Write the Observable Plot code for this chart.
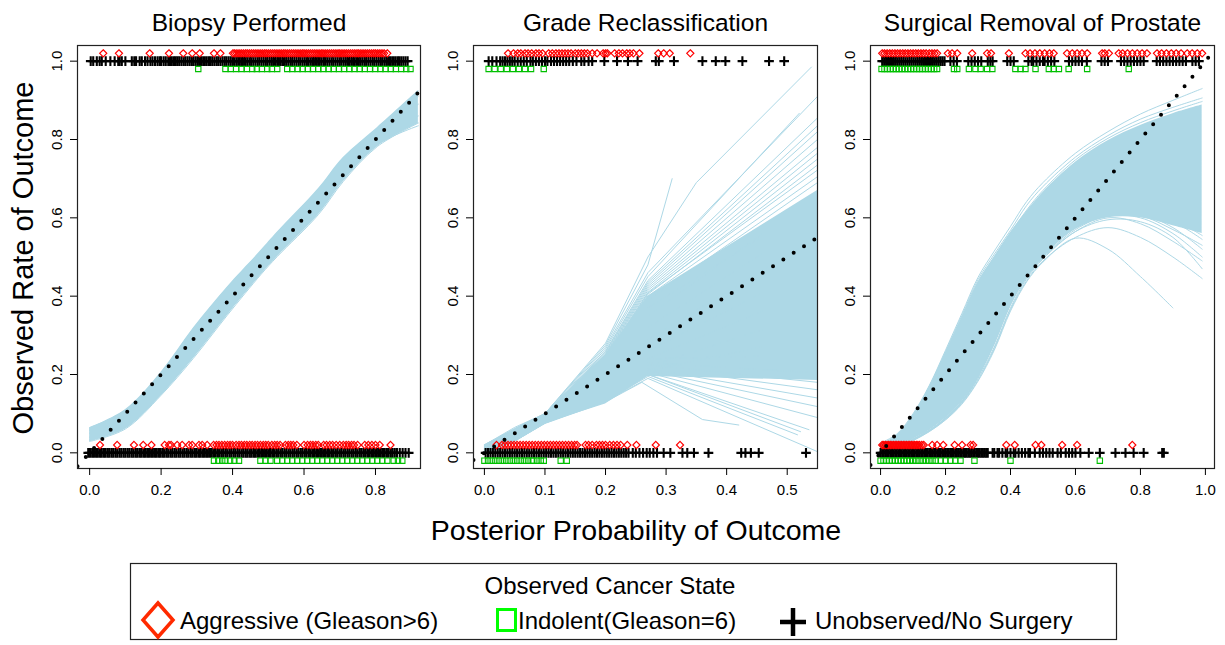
<!DOCTYPE html>
<html><head><meta charset="utf-8">
<script src="https://cdn.jsdelivr.net/npm/d3@7"></script>
<script src="https://cdn.jsdelivr.net/npm/@observablehq/plot@0.6"></script>
<style>
body{margin:0;background:#fff;}
#wrap{position:relative;width:1225px;height:645px;overflow:hidden;background:#fff;}
</style></head><body><div id="wrap"></div>
<script>
// ---------------- DATA ----------------
const panelTitles = ["Biopsy Performed", "Grade Reclassification", "Surgical Removal of Prostate"];
const yTicks = [0, 0.2, 0.4, 0.6, 0.8, 1.0];
const xTicksBiopsy = [0, 0.2, 0.4, 0.6, 0.8];
const xTicksGrade = [0, 0.1, 0.2, 0.3, 0.4, 0.5];
const xTicksSurgery = [0, 0.2, 0.4, 0.6, 0.8, 1.0];
const legendLabels = ["Aggressive (Gleason>6)", "Indolent(Gleason=6)", "Unobserved/No Surgery"];

// Biopsy: band of bootstrap calibration curves
const bioX = [0, 0.1, 0.2, 0.29, 0.385, 0.48, 0.525, 0.64, 0.71, 0.805, 0.92];
const bioLo = [0.028, 0.06, 0.146, 0.24, 0.35, 0.455, 0.50, 0.607, 0.692, 0.781, 0.84];
const bioHi = [0.064, 0.11, 0.206, 0.318, 0.423, 0.517, 0.563, 0.674, 0.754, 0.83, 0.925];
const bioCurves = [
  [0.064, 0.109, 0.205, 0.317, 0.422, 0.516, 0.562, 0.673, 0.753, 0.829, 0.924],
  [0.029, 0.061, 0.147, 0.241, 0.351, 0.456, 0.501, 0.608, 0.693, 0.782, 0.842],
  [0.05, 0.09, 0.18, 0.285, 0.395, 0.49, 0.54, 0.65, 0.73, 0.81, 0.89],
  [0.04, 0.075, 0.16, 0.26, 0.37, 0.47, 0.52, 0.625, 0.71, 0.795, 0.86],
  [0.058, 0.1, 0.195, 0.305, 0.41, 0.505, 0.55, 0.665, 0.745, 0.82, 0.91],
  [0.033, 0.066, 0.15, 0.247, 0.357, 0.46, 0.507, 0.615, 0.7, 0.787, 0.835]
];

// Grade reclassification: dense core and individual curves (x,y pairs)
const gradeX = [0, 0.05, 0.1, 0.2, 0.27, 0.55];
const gradeLo = [0.0, 0.03, 0.075, 0.125, 0.195, 0.185];
const gradeHi = [0.02, 0.06, 0.1, 0.25, 0.40, 0.67];
const gradeCurves = [
  [[0,0.02],[0.05,0.065],[0.1,0.1],[0.2,0.28],[0.27,0.5],[0.35,0.69],[0.54,0.985]],
  [[0,0.02],[0.05,0.062],[0.1,0.1],[0.2,0.275],[0.27,0.48],[0.31,0.70]],
  [[0,0.02],[0.05,0.06],[0.1,0.1],[0.2,0.27],[0.27,0.46],[0.55,0.91]],
  [[0,0.018],[0.05,0.06],[0.1,0.098],[0.2,0.265],[0.27,0.45],[0.52,0.867]],
  [[0,0.018],[0.05,0.058],[0.1,0.097],[0.2,0.26],[0.27,0.44],[0.55,0.855]],
  [[0,0.017],[0.05,0.057],[0.1,0.096],[0.2,0.258],[0.27,0.435],[0.55,0.835]],
  [[0,0.016],[0.05,0.056],[0.1,0.095],[0.2,0.255],[0.27,0.43],[0.55,0.82]],
  [[0,0.016],[0.05,0.056],[0.1,0.095],[0.2,0.252],[0.27,0.425],[0.55,0.80]],
  [[0,0.016],[0.05,0.055],[0.1,0.094],[0.2,0.25],[0.27,0.42],[0.55,0.78]],
  [[0,0.015],[0.05,0.055],[0.1,0.094],[0.2,0.248],[0.27,0.415],[0.55,0.765]],
  [[0,0.015],[0.05,0.054],[0.1,0.093],[0.2,0.245],[0.27,0.41],[0.55,0.75]],
  [[0,0.015],[0.05,0.053],[0.1,0.092],[0.2,0.24],[0.27,0.405],[0.55,0.735]],
  [[0,0.015],[0.05,0.053],[0.1,0.092],[0.2,0.242],[0.27,0.408],[0.55,0.722]],
  [[0,0.014],[0.05,0.052],[0.1,0.092],[0.2,0.238],[0.27,0.4],[0.55,0.705]],
  [[0,0.013],[0.05,0.051],[0.1,0.091],[0.2,0.232],[0.27,0.39],[0.55,0.69]],
  [[0,0.012],[0.05,0.05],[0.1,0.09],[0.2,0.22],[0.27,0.35],[0.55,0.66]],
  [[0,0.012],[0.05,0.05],[0.1,0.09],[0.2,0.225],[0.27,0.37],[0.55,0.64]],
  [[0,0.01],[0.05,0.045],[0.1,0.088],[0.2,0.2],[0.27,0.32],[0.55,0.6]],
  [[0,0.008],[0.05,0.042],[0.1,0.086],[0.2,0.19],[0.27,0.29],[0.55,0.55]],
  [[0,0.006],[0.05,0.04],[0.1,0.084],[0.2,0.17],[0.27,0.26],[0.55,0.48]],
  [[0,0.005],[0.05,0.038],[0.1,0.082],[0.2,0.16],[0.27,0.24],[0.55,0.42]],
  [[0,0.004],[0.05,0.036],[0.1,0.08],[0.2,0.15],[0.27,0.22],[0.55,0.36]],
  [[0,0.003],[0.05,0.034],[0.1,0.078],[0.2,0.14],[0.27,0.21],[0.55,0.3]],
  [[0,0],[0.05,0.03],[0.1,0.075],[0.2,0.13],[0.26,0.18],[0.36,0.085],[0.42,0.071]],
  [[0,0],[0.05,0.03],[0.1,0.076],[0.2,0.132],[0.27,0.19],[0.55,0.003]],
  [[0,0],[0.05,0.03],[0.1,0.076],[0.2,0.133],[0.27,0.195],[0.517,0.046]],
  [[0,0],[0.05,0.031],[0.1,0.077],[0.2,0.134],[0.27,0.2],[0.522,0.054]],
  [[0,0],[0.05,0.031],[0.1,0.077],[0.2,0.135],[0.27,0.2],[0.536,0.059]],
  [[0,0],[0.05,0.031],[0.1,0.078],[0.2,0.136],[0.27,0.205],[0.55,0.09]],
  [[0,0],[0.05,0.032],[0.1,0.078],[0.2,0.137],[0.27,0.21],[0.55,0.118]],
  [[0,0],[0.05,0.032],[0.1,0.079],[0.2,0.138],[0.27,0.215],[0.55,0.14]],
  [[0,0],[0.05,0.032],[0.1,0.079],[0.2,0.139],[0.27,0.22],[0.55,0.161]],
  [[0,0],[0.05,0.033],[0.1,0.08],[0.2,0.14],[0.27,0.225],[0.55,0.18]],
  [[0,0],[0.05,0.033],[0.1,0.08],[0.2,0.142],[0.27,0.23],[0.55,0.204]],
  [[0,0],[0.05,0.034],[0.1,0.081],[0.2,0.145],[0.27,0.24],[0.55,0.25]]
];

// Surgery: dense band and edge curves on a shared grid
const surX = [0, 0.05, 0.1, 0.15, 0.2, 0.25, 0.3, 0.35, 0.4, 0.45, 0.5, 0.6, 0.7, 0.8, 0.9, 0.99];
const surLo = [0.0, 0.013, 0.034, 0.057, 0.088, 0.13, 0.195, 0.28, 0.38, 0.45, 0.5, 0.57, 0.6, 0.6, 0.58, 0.56];
const surHi = [0.02, 0.043, 0.095, 0.168, 0.255, 0.345, 0.435, 0.5, 0.562, 0.616, 0.665, 0.742, 0.797, 0.836, 0.866, 0.888];
const surCurves = [
  [0.025,0.048,0.1,0.172,0.262,0.355,0.448,0.515,0.578,0.642,0.69,0.765,0.82,0.865,0.9,0.93],
  [0.022,0.045,0.097,0.17,0.258,0.35,0.442,0.507,0.568,0.632,0.68,0.755,0.81,0.852,0.882,0.906],
  [0.02,0.043,0.094,0.166,0.252,0.343,0.436,0.5,0.562,0.62,0.67,0.748,0.803,0.843,0.873,0.897],
  [0,0.013,0.033,0.056,0.087,0.128,0.19,0.27,0.37,0.445,0.495,0.565,0.6,0.585,0.54,0.49],
  [0,0.012,0.032,0.055,0.085,0.126,0.186,0.266,0.366,0.44,0.49,0.55,0.575,0.55,0.5,0.445],
  [0,0.012,0.031,0.054,0.084,0.124,0.183,0.262,0.362,0.437,0.487,0.548,0.52,0.45,0.37,null],
  [0,0.014,0.035,0.058,0.09,0.132,0.2,0.285,0.385,0.452,0.502,0.575,0.61,0.61,0.575,0.52],
  [0,0.013,0.034,0.057,0.088,0.13,0.195,0.28,0.38,0.45,0.5,0.57,0.605,0.6,0.56,0.5],
  [0,0.013,0.034,0.057,0.088,0.13,0.196,0.282,0.382,0.452,0.503,0.58,0.61,0.61,0.59,0.545],
  [0,0.013,0.034,0.057,0.088,0.13,0.194,0.278,0.378,0.448,0.498,0.565,0.595,0.59,0.55,0.47],
  [0,0.013,0.034,0.057,0.088,0.13,0.196,0.283,0.383,0.452,0.503,0.575,0.605,0.605,0.57,0.53],
  [0,0.013,0.034,0.057,0.088,0.13,0.197,0.284,0.384,0.454,0.505,0.583,0.615,0.615,0.595,0.555]
];

// Observed outcomes (rug), x = posterior probability
const bioAggr1 = [0.038,0.082,0.168,0.222,0.262,0.287,0.308,0.348,0.366,0.401,0.406,0.412,0.418,0.424,0.43,0.436,0.441,0.447,0.453,0.459,0.465,0.471,0.477,0.483,0.489,0.494,0.5,0.506,0.512,0.518,0.524,0.53,0.536,0.542,0.547,0.553,0.559,0.565,0.571,0.577,0.583,0.589,0.595,0.6,0.606,0.612,0.618,0.624,0.63,0.636,0.642,0.648,0.653,0.659,0.665,0.671,0.677,0.683,0.689,0.695,0.7,0.706,0.712,0.718,0.724,0.73,0.736,0.742,0.748,0.753,0.759,0.765,0.771,0.777,0.783,0.789,0.795,0.8,0.806,0.812,0.818,0.824,0.833];
const bioUnobs1 = [0.003,0.01,0.02,0.028,0.034,0.045,0.058,0.07,0.08,0.084,0.09,0.1,0.118,0.125,0.13,0.14,0.146,0.155,0.162,0.17,0.176,0.183,0.19,0.196,0.2,0.207,0.213,0.22,0.225,0.23,0.236,0.241,0.246,0.251,0.257,0.263,0.268,0.274,0.28,0.286,0.291,0.297,0.303,0.309,0.314,0.32,0.326,0.332,0.337,0.343,0.349,0.355,0.36,0.366,0.372,0.378,0.383,0.389,0.395,0.401,0.406,0.412,0.418,0.424,0.429,0.435,0.441,0.447,0.452,0.458,0.464,0.47,0.475,0.481,0.487,0.493,0.498,0.504,0.51,0.516,0.521,0.527,0.533,0.539,0.544,0.55,0.556,0.562,0.567,0.573,0.579,0.585,0.59,0.596,0.602,0.608,0.613,0.619,0.625,0.631,0.636,0.642,0.648,0.654,0.659,0.665,0.671,0.677,0.682,0.688,0.694,0.7,0.705,0.711,0.717,0.723,0.728,0.734,0.74,0.746,0.751,0.757,0.763,0.769,0.774,0.78,0.786,0.792,0.797,0.803,0.809,0.815,0.82,0.826,0.832,0.838,0.843,0.849,0.855,0.861,0.866,0.872,0.878,0.884,0.89];
const bioInd1 = [0.304,0.38,0.395,0.41,0.425,0.44,0.455,0.468,0.482,0.497,0.51,0.525,0.553,0.567,0.582,0.596,0.611,0.625,0.64,0.654,0.669,0.683,0.698,0.712,0.727,0.741,0.756,0.77,0.785,0.799,0.814,0.828,0.843,0.857,0.872,0.886,0.898];
const bioAggr0 = [0.029,0.077,0.124,0.15,0.173,0.21,0.222,0.228,0.245,0.259,0.278,0.287,0.306,0.315,0.329,0.347,0.355,0.362,0.37,0.378,0.386,0.393,0.40,0.41,0.418,0.425,0.433,0.44,0.448,0.455,0.463,0.47,0.478,0.486,0.493,0.50,0.51,0.518,0.525,0.533,0.548,0.556,0.563,0.57,0.58,0.6,0.61,0.618,0.625,0.633,0.64,0.655,0.663,0.672,0.68,0.69,0.7,0.71,0.718,0.725,0.733,0.74,0.75,0.77,0.78,0.79,0.8,0.812,0.842];
const bioUnobs0 = [-0.004,0.001,0.007,0.012,0.018,0.023,0.029,0.034,0.04,0.045,0.051,0.056,0.062,0.067,0.073,0.078,0.084,0.089,0.095,0.1,0.106,0.111,0.117,0.122,0.128,0.133,0.139,0.144,0.15,0.155,0.161,0.166,0.172,0.177,0.183,0.188,0.194,0.199,0.205,0.21,0.216,0.221,0.227,0.232,0.238,0.243,0.249,0.254,0.26,0.265,0.271,0.276,0.282,0.287,0.293,0.298,0.304,0.309,0.315,0.32,0.326,0.331,0.337,0.342,0.348,0.353,0.359,0.364,0.37,0.375,0.381,0.386,0.392,0.397,0.403,0.408,0.414,0.419,0.425,0.43,0.436,0.441,0.447,0.452,0.458,0.463,0.469,0.474,0.48,0.485,0.491,0.496,0.502,0.507,0.513,0.518,0.524,0.529,0.535,0.54,0.546,0.551,0.557,0.562,0.568,0.573,0.579,0.584,0.59,0.595,0.601,0.606,0.612,0.617,0.623,0.628,0.634,0.639,0.645,0.65,0.656,0.661,0.667,0.672,0.678,0.683,0.689,0.694,0.7,0.705,0.711,0.716,0.722,0.727,0.733,0.738,0.744,0.749,0.755,0.76,0.766,0.771,0.777,0.782,0.788,0.793,0.799,0.804,0.81,0.815,0.821,0.826,0.832,0.837,0.843,0.848,0.854,0.86,0.868,0.876,0.884,0.893];
const bioInd0 = [0.348,0.36,0.371,0.38,0.393,0.405,0.418,0.478,0.492,0.506,0.525,0.539,0.553,0.567,0.581,0.595,0.609,0.623,0.637,0.651,0.665,0.679,0.693,0.707,0.721,0.735,0.749,0.763,0.777,0.791,0.805,0.819,0.833,0.851,0.863,0.875];

const grAggr1 = [0.039,0.048,0.055,0.06,0.067,0.072,0.078,0.085,0.09,0.096,0.106,0.112,0.118,0.123,0.128,0.133,0.138,0.143,0.15,0.155,0.16,0.165,0.17,0.178,0.186,0.196,0.2,0.203,0.215,0.222,0.228,0.235,0.24,0.246,0.256,0.287,0.296,0.306,0.34];
const grUnobs1 = [0.007,0.013,0.02,0.026,0.03,0.034,0.038,0.042,0.046,0.05,0.055,0.06,0.065,0.07,0.076,0.08,0.085,0.09,0.095,0.1,0.104,0.11,0.115,0.12,0.125,0.13,0.135,0.14,0.146,0.152,0.16,0.165,0.172,0.178,0.198,0.219,0.237,0.253,0.283,0.288,0.313,0.36,0.382,0.398,0.426,0.47,0.495];
const grInd1 = [0.007,0.017,0.027,0.037,0.047,0.057,0.067,0.077,0.098];
const grAggr0 = [0.02,0.029,0.034,0.039,0.044,0.049,0.054,0.059,0.064,0.069,0.074,0.079,0.084,0.089,0.094,0.099,0.104,0.109,0.114,0.119,0.124,0.129,0.134,0.139,0.144,0.149,0.153,0.167,0.172,0.178,0.185,0.19,0.195,0.2,0.207,0.213,0.219,0.225,0.236,0.251,0.283,0.323];
const grUnobs0 = [0.002,0.006,0.01,0.014,0.018,0.022,0.026,0.03,0.034,0.038,0.042,0.046,0.05,0.054,0.058,0.062,0.066,0.07,0.074,0.078,0.082,0.086,0.09,0.094,0.098,0.102,0.106,0.11,0.114,0.118,0.122,0.126,0.13,0.134,0.138,0.142,0.146,0.15,0.154,0.158,0.162,0.166,0.17,0.174,0.178,0.182,0.186,0.19,0.194,0.198,0.202,0.206,0.21,0.214,0.218,0.222,0.226,0.23,0.234,0.238,0.245,0.25,0.256,0.262,0.268,0.273,0.279,0.285,0.296,0.307,0.327,0.335,0.346,0.37,0.424,0.431,0.44,0.453,0.531];
const grInd0 = [0.0,0.006,0.012,0.018,0.024,0.03,0.036,0.042,0.048,0.054,0.06,0.066,0.072,0.078,0.081,0.087,0.093,0.098,0.126,0.136];

const surAggr1 = [0.005,0.012,0.02,0.028,0.036,0.044,0.052,0.06,0.068,0.076,0.084,0.092,0.1,0.108,0.116,0.124,0.132,0.14,0.15,0.158,0.166,0.174,0.207,0.22,0.236,0.282,0.328,0.34,0.395,0.446,0.46,0.475,0.49,0.505,0.52,0.533,0.574,0.59,0.605,0.62,0.636,0.682,0.69,0.703,0.733,0.745,0.76,0.775,0.79,0.805,0.82,0.851,0.865,0.88,0.895,0.91,0.925,0.944,0.959,0.975,0.99];
const surUnobs1 = [0.005,0.011,0.017,0.023,0.029,0.035,0.041,0.047,0.053,0.059,0.065,0.071,0.077,0.083,0.089,0.095,0.101,0.107,0.113,0.119,0.125,0.131,0.137,0.143,0.149,0.155,0.161,0.167,0.173,0.179,0.185,0.191,0.197,0.215,0.225,0.235,0.27,0.28,0.29,0.3,0.31,0.33,0.338,0.345,0.39,0.4,0.41,0.455,0.465,0.47,0.48,0.49,0.5,0.505,0.515,0.525,0.535,0.58,0.59,0.6,0.61,0.62,0.635,0.68,0.69,0.7,0.74,0.75,0.76,0.77,0.78,0.79,0.8,0.81,0.85,0.86,0.87,0.88,0.89,0.9,0.91,0.92,0.93,0.94,0.96,0.97,0.98];
const surInd1 = [0.003,0.012,0.021,0.03,0.039,0.048,0.057,0.066,0.075,0.084,0.093,0.102,0.111,0.12,0.129,0.138,0.147,0.156,0.165,0.174,0.226,0.236,0.272,0.292,0.308,0.328,0.344,0.415,0.431,0.446,0.477,0.518,0.533,0.549,0.579,0.636,0.764];
const surAggr0 = [0.005,0.01,0.015,0.02,0.025,0.03,0.035,0.04,0.045,0.05,0.055,0.06,0.065,0.07,0.075,0.08,0.085,0.09,0.095,0.1,0.105,0.11,0.115,0.12,0.127,0.133,0.159,0.174,0.193,0.228,0.251,0.277,0.285,0.387,0.413,0.477,0.495,0.559,0.605,0.775];
const surUnobs0 = [0,0.005,0.01,0.015,0.02,0.025,0.03,0.035,0.04,0.045,0.05,0.055,0.06,0.065,0.07,0.075,0.08,0.085,0.09,0.095,0.1,0.105,0.11,0.115,0.12,0.125,0.13,0.135,0.14,0.145,0.15,0.155,0.16,0.165,0.17,0.175,0.18,0.185,0.19,0.195,0.2,0.205,0.21,0.215,0.22,0.225,0.23,0.235,0.24,0.245,0.25,0.255,0.26,0.265,0.27,0.275,0.28,0.285,0.29,0.295,0.3,0.305,0.31,0.315,0.32,0.325,0.33,0.345,0.35,0.36,0.365,0.375,0.385,0.39,0.4,0.41,0.415,0.425,0.435,0.445,0.455,0.46,0.475,0.49,0.5,0.51,0.52,0.53,0.545,0.555,0.57,0.58,0.59,0.6,0.615,0.641,0.675,0.723,0.754,0.779,0.81,0.867,0.872];
const surInd0 = [0.0,0.009,0.018,0.027,0.036,0.045,0.054,0.063,0.072,0.081,0.09,0.1,0.11,0.12,0.13,0.14,0.15,0.16,0.17,0.185,0.2,0.215,0.23,0.246,0.289,0.4,0.675];

// ---------------- LAYOUT / STYLE ----------------
const FONT = "'Liberation Sans', Arial, Helvetica, sans-serif";
const BLUE = "#ADD8E6";
const RED = "#FF0000";
const GREEN = "#00C000";
const frames = [
  {left: 77, right: 420, xDomain: [-0.034, 0.926]},
  {left: 473, right: 817, xDomain: [-0.018, 0.55]},
  {left: 870, right: 1214, xDomain: [-0.031, 1.028]}
];
const yDomain = [-0.04, 1.04];
const stateOffset = {aggr: 0.02, unobs: 0, ind: -0.02};

// ---------------- BUILD TABLES ----------------
function rug(spec) {
  const rows = [];
  for (const [state, outcome, xs] of spec) for (const x of xs) rows.push({x, outcome, state});
  return rows;
}
function gridCurves(xs, curves) {
  const rows = [];
  curves.forEach((ys, id) => ys.forEach((y, k) => { if (y != null) rows.push({id, x: xs[k], y}); }));
  return rows;
}
function pairCurves(curves) {
  const rows = [];
  curves.forEach((pts, id) => pts.forEach(([x, y]) => rows.push({id, x, y})));
  return rows;
}
function band(xs, lo, hi) { return xs.map((x, k) => ({x, lo: lo[k], hi: hi[k]})); }

const panels = [
  {
    title: panelTitles[0], ticks: xTicksBiopsy, curve: "catmull-rom",
    band: band(bioX, bioLo, bioHi), lines: gridCurves(bioX, bioCurves),
    pts: rug([["aggr",1,bioAggr1],["unobs",1,bioUnobs1],["ind",1,bioInd1],["aggr",0,bioAggr0],["unobs",0,bioUnobs0],["ind",0,bioInd0]])
  },
  {
    title: panelTitles[1], ticks: xTicksGrade, curve: "linear",
    band: band(gradeX, gradeLo, gradeHi), lines: pairCurves(gradeCurves),
    pts: rug([["aggr",1,grAggr1],["unobs",1,grUnobs1],["ind",1,grInd1],["aggr",0,grAggr0],["unobs",0,grUnobs0],["ind",0,grInd0]])
  },
  {
    title: panelTitles[2], ticks: xTicksSurgery, curve: "catmull-rom",
    band: band(surX, surLo, surHi), lines: gridCurves(surX, surCurves),
    pts: rug([["aggr",1,surAggr1],["unobs",1,surUnobs1],["ind",1,surInd1],["aggr",0,surAggr0],["unobs",0,surUnobs0],["ind",0,surInd0]])
  }
];

const wrap = document.getElementById("wrap");
const fmt = d3.format(".1f");

panels.forEach((p, i) => {
  const F = frames[i];
  const ML = 77, MR = 12, MT = 45, MB = 32, H = 500;
  const W = F.right - F.left + ML + MR;
  const yOf = d => d.outcome + stateOffset[d.state];
  const chart = Plot.plot({
    width: W, height: H,
    marginLeft: ML, marginRight: MR, marginTop: MT, marginBottom: MB,
    x: {domain: F.xDomain, axis: null},
    y: {domain: yDomain, axis: null},
    style: {background: "none", fontFamily: FONT, fontSize: "15px", overflow: "visible", color: "black"},
    marks: [
      Plot.areaY(p.band, {x: "x", y1: "lo", y2: "hi", fill: BLUE, curve: p.curve, clip: true}),
      Plot.line(p.lines, {x: "x", y: "y", z: "id", stroke: BLUE, strokeWidth: 1, curve: p.curve, clip: true}),
      Plot.dot(p.pts.filter(d => d.state === "unobs"), {x: "x", y: yOf, symbol: "plus", r: 3.2, stroke: "black", strokeWidth: 2.1}),
      Plot.dot(p.pts.filter(d => d.state === "aggr"), {x: "x", y: yOf, symbol: "diamond2", r: 3.2, stroke: RED, fill: "none", strokeWidth: 1.2}),
      Plot.dot(p.pts.filter(d => d.state === "ind"), {x: "x", y: yOf, symbol: "square2", r: 3.4, stroke: GREEN, fill: "none", strokeWidth: 1.1}),
      Plot.line(F.xDomain, {x: d => d, y: d => d, stroke: "black", strokeWidth: 4, strokeDasharray: "0,12.3", strokeLinecap: "round", clip: true}),
      Plot.frame({stroke: "#222", strokeWidth: 1.2}),
      Plot.axisX({ticks: p.ticks, tickSize: 7, tickPadding: 9, tickFormat: fmt, fontSize: 15, label: null}),
      Plot.axisY({ticks: yTicks, tickSize: 7, tickFormat: () => "", label: null}),
      Plot.text(yTicks, {frameAnchor: "left", y: d => d, text: d => fmt(d), rotate: -90, dx: -20, fontSize: 15, lineAnchor: "middle", textAnchor: "middle"}),
      Plot.text([p.title], {frameAnchor: "top", text: d => d, dy: -15, lineAnchor: "bottom", fontSize: 24.5})
    ]
  });
  chart.style.position = "absolute";
  chart.style.left = (F.left - ML) + "px";
  chart.style.top = "0px";
  wrap.appendChild(chart);
});

// ---------------- AXIS TITLES + LEGEND ----------------
const svg = d3.select(wrap).append("svg")
  .attr("width", 1225).attr("height", 645)
  .style("position", "absolute").style("left", "0px").style("top", "0px")
  .style("font-family", FONT).style("pointer-events", "none");

svg.append("text").attr("transform", "translate(33,258) rotate(-90)")
  .attr("text-anchor", "middle").attr("font-size", 29).text("Observed Rate of Outcome");
svg.append("text").attr("x", 636).attr("y", 540)
  .attr("text-anchor", "middle").attr("font-size", 28.5).text("Posterior Probability of Outcome");

svg.append("rect").attr("x", 130.5).attr("y", 563.5).attr("width", 986).attr("height", 76)
  .attr("fill", "none").attr("stroke", "#222").attr("stroke-width", 1.2);
svg.append("text").attr("x", 610).attr("y", 594).attr("text-anchor", "middle")
  .attr("font-size", 24).text("Observed Cancer State");
// legend keys
svg.append("path").attr("d", "M158,603 L173,620 L158,637 L143,620 Z")
  .attr("fill", "none").attr("stroke", "#FF2A00").attr("stroke-width", 3.5);
svg.append("rect").attr("x", 497.5).attr("y", 609.5).attr("width", 18).attr("height", 21)
  .attr("fill", "none").attr("stroke", "#00FF00").attr("stroke-width", 3);
svg.append("path").attr("d", "M780,622 L806,622 M793,608 L793,636")
  .attr("fill", "none").attr("stroke", "black").attr("stroke-width", 4.5);
const legX = [180, 518, 815];
legendLabels.forEach((t, k) => {
  svg.append("text").attr("x", legX[k]).attr("y", 629).attr("font-size", 24).text(t);
});
</script></body></html>
